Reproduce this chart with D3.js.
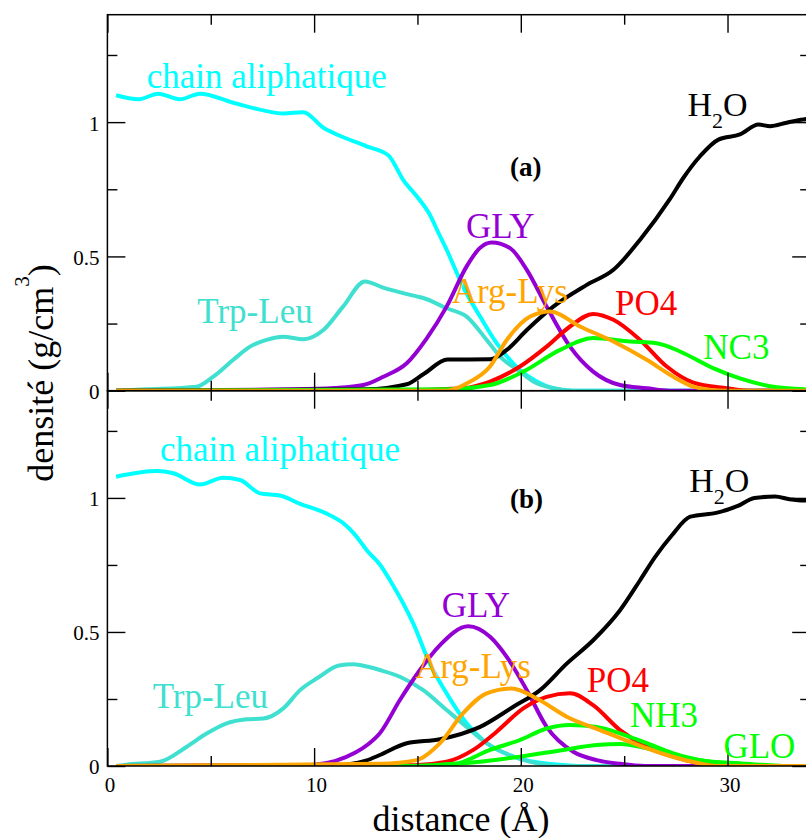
<!DOCTYPE html>
<html>
<head>
<meta charset="utf-8">
<script src="https://cdn.jsdelivr.net/npm/d3@7"></script>
<style>
  html, body { margin: 0; padding: 0; background: #fff; }
  svg { display: block; }
  text { font-family: "Liberation Serif", "Times New Roman", serif; }
</style>
</head>
<body>
<svg id="chart" width="806" height="838"></svg>
<script>
// ---------------- DATA (x = distance in Å, y = density g/cm3) ----------------
const xTickMajor = [0, 10, 20, 30];
const xTickMinor = [5, 15, 25];
const yTickMajor = [0, 0.5, 1];
const yTickMinor = [0.25, 0.75, 1.25];

// Panel (a)
const aChain = [[0.42,1.10],[1.5,1.085],[2.46,1.106],[3.5,1.085],[4.48,1.106],[6.09,1.072],[7.7,1.041],[8.5,1.032],[9.48,1.037],[10.45,0.979],[11.1,0.954],[12.54,0.910],[13.6,0.876],[14.3,0.786],[15.1,0.711],[15.6,0.655],[16.0,0.59],[16.41,0.525],[17.2,0.388],[18.03,0.276],[18.83,0.177],[19.96,0.077],[20.77,0.034],[21.57,0.009],[22.5,0.0],[34.5,0]];
const aTrpLeu = [[0.42,0],[1.9,0.005],[4.32,0.015],[5.12,0.052],[6.09,0.115],[6.9,0.164],[7.7,0.189],[8.5,0.201],[9.48,0.192],[10.45,0.226],[11.4,0.313],[12.46,0.407],[13.3,0.385],[14.96,0.351],[15.28,0.345],[16.41,0.307],[17.38,0.276],[18.35,0.189],[19.0,0.127],[19.96,0.071],[20.6,0.034],[21.57,0.009],[22.5,0],[34.5,0]];
const aGly = [[0.42,0],[9.0,0.005],[11,0.01],[12.38,0.021],[13.35,0.052],[14.48,0.102],[15.45,0.195],[16.41,0.313],[17.38,0.463],[18.0,0.53],[18.59,0.552],[19.48,0.531],[20.29,0.45],[21.25,0.313],[22.38,0.164],[23.5,0.071],[24.8,0.021],[26.1,0.009],[27.2,0],[34.5,0]];
const aH2O = [[0.42,0],[12.5,0.005],[14.48,0.024],[15.3,0.062],[16.45,0.116],[18.51,0.117],[19.32,0.152],[20.29,0.226],[21.57,0.313],[23.19,0.394],[24.48,0.45],[25.77,0.562],[27.2,0.712],[27.86,0.792],[28.67,0.873],[29.56,0.935],[30.6,0.954],[31.5,0.991],[32.06,0.985],[32.86,0.998],[33.67,1.01],[34.5,1.015]];
const aArgLys = [[0.42,0],[16.41,0.0],[17.38,0.027],[18.51,0.09],[19.32,0.189],[20.45,0.276],[21.41,0.295],[22.86,0.239],[24.48,0.183],[26.09,0.115],[27.38,0.052],[28.35,0.015],[29.2,0.003],[30,0],[34.5,0]];
const aPO4 = [[0.42,0],[13.5,0],[17.2,0.009],[18.51,0.034],[19.96,0.09],[21.25,0.164],[22.38,0.239],[23.5,0.286],[24.48,0.264],[25.77,0.189],[27.06,0.09],[28.35,0.03],[29.96,0.009],[31,0],[34.5,0]];
const aNC3 = [[0.42,0],[16.4,0.005],[18.51,0.021],[20.12,0.071],[21.9,0.152],[23.5,0.196],[25.28,0.183],[26.57,0.177],[27.7,0.146],[29.3,0.084],[30.6,0.046],[32.2,0.015],[33.7,0.005],[34.5,0]];

// Panel (b)
const bChain = [[0.42,1.079],[2.38,1.10],[3.19,1.092],[4.48,1.05],[5.6,1.075],[6.42,1.067],[7.38,1.017],[8.35,1.009],[9.32,0.978],[10.5,0.945],[11.5,0.9],[11.9,0.87],[12.6,0.80],[13.2,0.75],[13.67,0.693],[14.8,0.531],[15.6,0.382],[16.41,0.271],[17.38,0.159],[18.35,0.085],[19.64,0.035],[20.93,0.012],[22.2,0.003],[23,0],[34.5,0]];
const bTrpLeu = [[0.42,0],[0.93,0.005],[2.54,0.016],[3.84,0.072],[4.8,0.121],[5.77,0.159],[6.74,0.174],[7.54,0.177],[8.51,0.215],[9.32,0.283],[10.2,0.33],[11.2,0.375],[11.9,0.38],[12.6,0.37],[13.18,0.358],[14.15,0.333],[15.28,0.283],[16.41,0.209],[17.38,0.146],[18.35,0.085],[19.64,0.035],[20.8,0.01],[21.8,0],[34.5,0]];
const bGly = [[0.42,0],[8.9,0],[10,0.005],[11,0.018],[12,0.05],[12.6,0.08],[13.18,0.122],[14.15,0.246],[15.12,0.358],[16.09,0.451],[17.46,0.521],[18.51,0.482],[19.32,0.407],[20.29,0.283],[21.25,0.146],[22.54,0.053],[23.67,0.022],[24.8,0.008],[26,0],[34.5,0]];
const bH2O = [[0.42,0],[11,0.003],[12.5,0.02],[13.18,0.041],[14.48,0.085],[16.09,0.1],[18.03,0.146],[19.64,0.221],[20.93,0.283],[22.22,0.382],[23.5,0.469],[24.8,0.581],[25.77,0.693],[26.5,0.78],[27.3,0.86],[28.2,0.93],[29.5,0.945],[30.5,0.97],[31.3,1.0],[32.3,1.005],[33.0,0.995],[33.7,0.99],[34.5,0.99]];
const bArgLys = [[0.42,0],[13.18,0.008],[14.96,0.022],[16.09,0.085],[17.2,0.196],[18.35,0.271],[19.56,0.289],[20.77,0.252],[22.22,0.184],[23.83,0.134],[25.44,0.085],[27.06,0.041],[28.5,0.012],[29.5,0],[34.5,0]];
const bPO4 = [[0.42,0],[14.8,0.003],[16.41,0.016],[17.7,0.06],[18.83,0.128],[20.12,0.215],[21.25,0.258],[22.38,0.271],[23.5,0.227],[24.8,0.134],[26.09,0.072],[27.38,0.035],[28.67,0.01],[29.8,0],[34.5,0]];
const bNH3 = [[0.42,0],[14.5,0],[16.8,0.008],[18.51,0.06],[19.96,0.097],[21.25,0.14],[22.38,0.153],[23.67,0.146],[24.8,0.122],[26.09,0.085],[27.38,0.047],[28.67,0.022],[30.93,0.008],[32,0],[34.5,0]];
const bGLO = [[0.42,0],[14.5,0],[18.03,0.016],[19.96,0.035],[22.06,0.06],[23.67,0.078],[24.8,0.082],[26.09,0.066],[27.38,0.041],[28.67,0.022],[29.96,0.01],[31.9,0.004],[33,0],[34.5,0]];

// Series labels (text, anchor position in data coordinates)
const aLabels = [
  {t:"chain aliphatique", x:1.90, y:1.128, c:"#00FFFF"},
  {t:"Trp-Leu", x:4.35, y:0.251, c:"#40E0D0"},
  {t:"GLY", x:17.35, y:0.567, c:"#9400D3"},
  {t:"Arg-Lys", x:16.66, y:0.325, c:"#FFA500"},
  {t:"PO4", x:24.56, y:0.282, c:"#FF0000"},
  {t:"NC3", x:28.83, y:0.117, c:"#00FF00"}
];
const bLabels = [
  {t:"chain aliphatique", x:2.54, y:1.139, c:"#00FFFF"},
  {t:"Trp-Leu", x:2.19, y:0.215, c:"#40E0D0"},
  {t:"GLY", x:16.17, y:0.554, c:"#9400D3"},
  {t:"Arg-Lys", x:14.88, y:0.327, c:"#FFA500"},
  {t:"PO4", x:23.19, y:0.277, c:"#FF0000"},
  {t:"NH3", x:25.28, y:0.146, c:"#00FF00"},
  {t:"GLO", x:29.8, y:0.029, c:"#00FF00"}
];
const h2oPos = [{x:28.06, y:1.023}, {x:28.15, y:1.021}];
const panelTags = [{t:"(a)", x:19.48, y:0.80}, {t:"(b)", x:19.48, y:0.964}];

// ---------------- LAYOUT ----------------
const svg = d3.select("#chart");
svg.append("rect").attr("width", 806).attr("height", 838).attr("fill", "#fff");

const L = 107.4, R = 810.2;
const panels = [
  {top: 14.7, bottom: 390.7, series: [
      {d:aChain, c:"#00FFFF"}, {d:aTrpLeu, c:"#40E0D0"}, {d:aGly, c:"#9400D3"},
      {d:aH2O, c:"#000000"}, {d:aPO4, c:"#FF0000"}, {d:aNC3, c:"#00FF00"},
      {d:aArgLys, c:"#FFA500"}], labels: aLabels, h2o: h2oPos[0], tag: panelTags[0], xLabels: false},
  {top: 390.7, bottom: 766, series: [
      {d:bChain, c:"#00FFFF"}, {d:bTrpLeu, c:"#40E0D0"}, {d:bGly, c:"#9400D3"},
      {d:bH2O, c:"#000000"}, {d:bPO4, c:"#FF0000"}, {d:bGLO, c:"#00FF00"}, {d:bNH3, c:"#00FF00"},
      {d:bArgLys, c:"#FFA500"}], labels: bLabels, h2o: h2oPos[1], tag: panelTags[1], xLabels: true}
];

const x = d3.scaleLinear().domain([0, 34]).range([L, R]);

panels.forEach((p, i) => {
  const y = d3.scaleLinear().domain([0, 1.4]).range([p.bottom, p.top]);
  const clipId = "clip" + i;
  svg.append("clipPath").attr("id", clipId)
    .append("rect").attr("x", L).attr("y", p.top).attr("width", R - L).attr("height", p.bottom - p.top);

  const line = d3.line().x(d => x(d[0])).y(d => y(d[1])).curve(d3.curveMonotoneX);
  const g = svg.append("g").attr("clip-path", `url(#${clipId})`);
  p.series.forEach(s => {
    g.append("path").datum(s.d).attr("d", line)
      .attr("fill", "none").attr("stroke", s.c).attr("stroke-width", 4)
      .attr("stroke-linejoin", "round");
  });

  // axes: major ticks (18px) and minor (10px), all pointing inward
  const axes = svg.append("g").attr("class", "axes");
  const mk = (axis, tx, ty) => {
    const gg = axes.append("g").attr("transform", `translate(${tx},${ty})`).call(axis);
    gg.select(".domain").remove();
    gg.selectAll("line").attr("stroke", "#000").attr("stroke-width", 1.4);
    gg.selectAll("text").attr("font-size", 21).attr("fill", "#000")
      .style("font-family", '"Liberation Serif", "Times New Roman", serif');
    return gg;
  };
  mk(d3.axisLeft(y).tickValues(yTickMajor).tickSize(-18).tickPadding(8).tickFormat(d3.format("")), L, 0)
    .selectAll("text").attr("dy", "0.38em");
  mk(d3.axisLeft(y).tickValues(yTickMinor).tickSize(-10).tickFormat(""), L, 0);
  mk(d3.axisRight(y).tickValues(yTickMajor).tickSize(-18).tickFormat(""), R, 0);
  mk(d3.axisRight(y).tickValues(yTickMinor).tickSize(-10).tickFormat(""), R, 0);
  const bx = mk(d3.axisBottom(x).tickValues(xTickMajor).tickSize(-18).tickPadding(11.5)
      .tickFormat(p.xLabels ? d3.format("") : ""), 0, p.bottom);
  mk(d3.axisBottom(x).tickValues(xTickMinor).tickSize(-10).tickFormat(""), 0, p.bottom);
  mk(d3.axisTop(x).tickValues(xTickMajor).tickSize(-18).tickFormat(""), 0, p.top);
  mk(d3.axisTop(x).tickValues(xTickMinor).tickSize(-10).tickFormat(""), 0, p.top);
  bx.selectAll("text").attr("dx", 2);

  // frame
  svg.append("rect").attr("x", L).attr("y", p.top).attr("width", R - L).attr("height", p.bottom - p.top)
    .attr("fill", "none").attr("stroke", "#000").attr("stroke-width", 1.5);

  // series labels
  const lab = svg.append("g");
  p.labels.forEach(l => {
    lab.append("text").attr("x", x(l.x)).attr("y", y(l.y)).attr("fill", l.c)
      .attr("font-size", 35).text(l.t);
  });
  const h = lab.append("text").attr("x", x(p.h2o.x)).attr("y", y(p.h2o.y))
    .attr("fill", "#000").attr("font-size", 34);
  h.append("tspan").text("H");
  h.append("tspan").attr("font-size", 22).attr("dy", 12).text("2");
  h.append("tspan").attr("dy", -12).text("O");

  lab.append("text").attr("x", x(p.tag.x)).attr("y", y(p.tag.y)).attr("fill", "#000")
    .attr("font-size", 27).attr("font-weight", "bold").text(p.tag.t);
});

// axis titles
svg.append("text").attr("x", 461).attr("y", 831).attr("text-anchor", "middle")
  .attr("font-size", 36).attr("fill", "#000").text("distance (Å)");

const yt = svg.append("text").attr("transform", "translate(53,373) rotate(-90)")
  .attr("text-anchor", "middle").attr("font-size", 36).attr("fill", "#000");
yt.append("tspan").text("densité (g/cm");
yt.append("tspan").attr("font-size", 21).attr("dy", -24).text("3");
yt.append("tspan").attr("dy", 24).text(")");
</script>
</body>
</html>
